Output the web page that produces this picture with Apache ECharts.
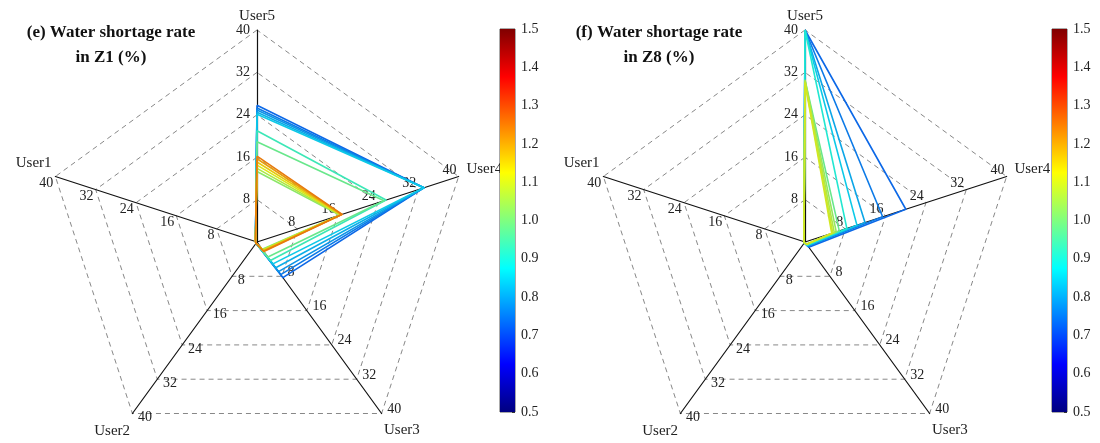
<!DOCTYPE html>
<html>
<head>
<meta charset="utf-8">
<script src="https://cdn.jsdelivr.net/npm/echarts@6/dist/echarts.min.js"></script>
<style>
  html, body { margin: 0; padding: 0; background: #fff; }
  #main { width: 1100px; height: 443px; }
</style>
</head>
<body>
<div id="main"></div>
<script>
// 轴顺序 (逆时针, 从正上方开始)
var userNames = ['User5', 'User1', 'User2', 'User3', 'User4'];
var axisMax = 40;
var barRange = [0.5, 1.5];

// (e) Z1
var z1Rate  = [0.73, 0.75, 0.78, 0.81, 0.84, 0.93, 0.98, 1.02, 1.06, 1.11, 1.16, 1.21, 1.25];
var z1User5 = [25.8, 25.3, 24.9, 24.5, 24.1, 21.0, 18.9, 13.3, 13.9, 14.5, 15.1, 15.7, 16.2];
var z1User4 = [33.1, 33.1, 33.1, 33.1, 33.1, 25.6, 25.2, 16.4, 16.5, 16.6, 16.7, 16.8, 16.9];
var z1User3 = [8.3, 7.6, 6.9, 6.0, 5.1, 4.3, 3.5, 1.7, 1.8, 1.9, 2.0, 2.1, 2.2];
var z1User2 = [0.3, 0.3, 0.3, 0.3, 0.3, 0.3, 0.3, 0.3, 0.3, 0.3, 0.3, 0.3, 0.3];
var z1User1 = [0.3, 0.3, 0.3, 0.3, 0.3, 0.3, 0.3, 0.3, 0.3, 0.3, 0.3, 0.3, 0.3];

// (f) Z8
var z8Rate  = [0.73, 0.75, 0.80, 0.84, 0.90, 0.98, 1.03, 1.06, 1.08, 1.10];
var z8User5 = [40, 40, 40, 40, 40, 30.6, 30.6, 30.4, 30.2, 30.0];
var z8User4 = [20.0, 15.4, 11.9, 10.3, 8.3, 6.8, 6.2, 5.8, 5.5, 5.3];
var z8User3 = [1.2, 1.0, 0.9, 0.8, 0.7, 0.6, 0.5, 0.5, 0.5, 0.5];
var z8User2 = [0.2, 0.2, 0.2, 0.2, 0.2, 0.2, 0.2, 0.2, 0.2, 0.2];
var z8User1 = [0.2, 0.2, 0.2, 0.2, 0.2, 0.2, 0.2, 0.2, 0.2, 0.2];

var serif = 'Liberation Serif';

// jet 色带
var jetStops = [
  [0, [0, 0, 0.5]], [0.125, [0, 0, 1]], [0.375, [0, 1, 1]],
  [0.625, [1, 1, 0]], [0.875, [1, 0, 0]], [1, [0.5, 0, 0]]
];
function jet(v) {
  var t = (v - barRange[0]) / (barRange[1] - barRange[0]);
  t = Math.max(0, Math.min(1, t));
  for (var i = 1; i < jetStops.length; i++) {
    if (t <= jetStops[i][0]) {
      var a = jetStops[i - 1], b = jetStops[i];
      var f = (t - a[0]) / (b[0] - a[0]);
      var c = [0, 1, 2].map(function(k) {
        return Math.round((a[1][k] + (b[1][k] - a[1][k]) * f) * 255 * 0.86 + 12);
      });
      return 'rgb(' + c.join(',') + ')';
    }
  }
  return 'rgb(112,0,0)';
}

function buildData(rate, u5, u1, u2, u3, u4) {
  var list = [];
  for (var i = 0; i < rate.length; i++) {
    list.push({
      value: [u5[i], u1[i], u2[i], u3[i], u4[i]],
      lineStyle: { color: jet(rate[i]), width: 1.6 }
    });
  }
  return list;
}

var nameBase = { color: '#222', fontFamily: serif, fontSize: 15 };
function radarCfg(cx) {
  return {
    center: [cx, 242],
    radius: 212,
    startAngle: 90,
    shape: 'polygon',
    splitNumber: 5,
    indicator: userNames.map(function(n) { return { name: n, min: 0, max: axisMax }; }),
    nameGap: 4,
    nameMoveOverlap: false,
    axisName: {
      color: '#222', fontFamily: serif, fontSize: 15,
      formatter: function(n) { return '{' + n + '|' + n + '}'; },
      rich: {
        User5: nameBase,
        User1: echarts.util.extend({ padding: [0, 0, 24, 0] }, nameBase),
        User2: echarts.util.extend({ padding: [28, 0, 0, 0] }, nameBase),
        User3: echarts.util.extend({ padding: [26, 0, 0, 0] }, nameBase),
        User4: echarts.util.extend({ padding: [0, 0, 12, 4] }, nameBase)
      }
    },
    axisLine: { lineStyle: { color: '#111', width: 1.2 } },
    splitLine: { lineStyle: { color: '#888', type: [5, 4], width: 1 } },
    splitArea: { show: false },
    axisTick: { show: false },
    axisLabel: { show: true, showMinLabel: false, color: '#222', fontFamily: serif, fontSize: 14, margin: 7 }
  };
}

var jetGrad = jetStops.map(function(s) {
  return { offset: s[0], color: 'rgb(' + s[1].map(function(x) { return Math.round(x * 255); }).join(',') + ')' };
});

function barGrid(left) {
  return { left: left, top: 29, width: 15, height: 383, show: true, borderColor: '#555', borderWidth: 1, backgroundColor: 'transparent' };
}
function barX(idx) {
  return { type: 'category', gridIndex: idx, data: ['c'], show: false };
}
function barY(idx) {
  return {
    type: 'value', gridIndex: idx, position: 'right',
    min: barRange[0], max: barRange[1], interval: 0.1,
    axisLine: { show: false },
    axisTick: { show: true, inside: true, length: 3, lineStyle: { color: '#333' } },
    splitLine: { show: false },
    axisLabel: { color: '#222', fontFamily: serif, fontSize: 14, margin: 6,
      formatter: function(v) { return v.toFixed(1); } }
  };
}
function barSeries(idx) {
  return [{
    type: 'bar', xAxisIndex: idx, yAxisIndex: idx, stack: 'cb' + idx, barWidth: '100%',
    data: [barRange[0]], itemStyle: { color: 'transparent' }, silent: true
  }, {
    type: 'bar', xAxisIndex: idx, yAxisIndex: idx, stack: 'cb' + idx, barWidth: '100%',
    data: [barRange[1] - barRange[0]], silent: true,
    itemStyle: { color: new echarts.graphic.LinearGradient(0, 1, 0, 0, jetGrad) }
  }];
}

var chart = echarts.init(document.getElementById('main'));
var titleStyle = { fontFamily: serif, fontWeight: 'bold', fontSize: 17, color: '#111', lineHeight: 25, align: 'center' };
var option = {
  animation: false,
  backgroundColor: '#fff',
  title: [{
    text: '(e) Water shortage rate\nin Z1 (%)',
    left: 106, top: 15, textAlign: 'center', textStyle: titleStyle
  }, {
    text: '(f) Water shortage rate\nin Z8 (%)',
    left: 654, top: 15, textAlign: 'center', textStyle: titleStyle
  }],
  radar: [radarCfg(257), radarCfg(805)],
  grid: [barGrid(500), barGrid(1052)],
  xAxis: [barX(0), barX(1)],
  yAxis: [barY(0), barY(1)],
  series: [{
    type: 'radar', radarIndex: 0, symbol: 'none', silent: true,
    data: buildData(z1Rate, z1User5, z1User1, z1User2, z1User3, z1User4)
  }, {
    type: 'radar', radarIndex: 1, symbol: 'none', silent: true,
    data: buildData(z8Rate, z8User5, z8User1, z8User2, z8User3, z8User4)
  }].concat(barSeries(0), barSeries(1))
};
chart.setOption(option);
</script>
</body>
</html>
